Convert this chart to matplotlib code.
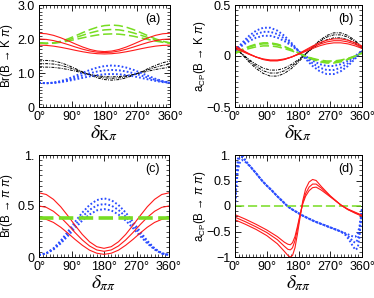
import matplotlib
matplotlib.use("Agg")
import matplotlib.pyplot as plt
from matplotlib.ticker import MultipleLocator, FixedLocator, FixedFormatter

plt.rcParams['font.family'] = ['Liberation Sans', 'DejaVu Sans']
plt.rcParams['mathtext.fontset'] = 'custom'
plt.rcParams['mathtext.rm'] = 'Liberation Sans'
plt.rcParams['mathtext.it'] = 'Liberation Sans:italic'

# ---------------- data ----------------
delta = [0, 20, 40, 60, 80, 100, 120, 140, 160, 180, 200, 220, 240, 260, 280, 300, 320, 340, 360]

# panel (a): Br(B -> K pi)
a_red = [
    [2.17, 2.154, 2.107, 2.035, 1.947, 1.853, 1.765, 1.693, 1.646, 1.63, 1.646, 1.693, 1.765, 1.853, 1.947, 2.035, 2.107, 2.154, 2.17],
    [2.0, 1.988, 1.953, 1.9, 1.835, 1.765, 1.7, 1.647, 1.612, 1.6, 1.612, 1.647, 1.7, 1.765, 1.835, 1.9, 1.953, 1.988, 2.0],
    [1.82, 1.812, 1.79, 1.755, 1.713, 1.667, 1.625, 1.59, 1.568, 1.56, 1.568, 1.59, 1.625, 1.667, 1.713, 1.755, 1.79, 1.812, 1.82],
]
a_green = [
    [1.886, 1.87, 1.886, 1.933, 2.005, 2.093, 2.187, 2.275, 2.347, 2.394, 2.41, 2.394, 2.347, 2.275, 2.187, 2.093, 2.005, 1.933, 1.886],
    [1.882, 1.87, 1.882, 1.918, 1.973, 2.039, 2.111, 2.178, 2.232, 2.268, 2.28, 2.268, 2.232, 2.178, 2.111, 2.039, 1.973, 1.918, 1.882],
    [1.878, 1.87, 1.878, 1.903, 1.94, 1.986, 2.034, 2.08, 2.117, 2.142, 2.15, 2.142, 2.117, 2.08, 2.034, 1.986, 1.94, 1.903, 1.878],
]
a_black = [
    [1.353, 1.37, 1.353, 1.302, 1.225, 1.13, 1.03, 0.935, 0.858, 0.807, 0.79, 0.807, 0.858, 0.935, 1.03, 1.13, 1.225, 1.302, 1.353],
    [1.263, 1.276, 1.263, 1.225, 1.168, 1.098, 1.022, 0.952, 0.895, 0.857, 0.844, 0.857, 0.895, 0.952, 1.022, 1.098, 1.168, 1.225, 1.263],
    [1.165, 1.174, 1.165, 1.14, 1.102, 1.055, 1.005, 0.958, 0.92, 0.895, 0.886, 0.895, 0.92, 0.958, 1.005, 1.055, 1.102, 1.14, 1.165],
]
a_blue = [
    [0.716, 0.70, 0.716, 0.761, 0.83, 0.915, 1.005, 1.09, 1.159, 1.204, 1.22, 1.204, 1.159, 1.09, 1.005, 0.915, 0.83, 0.761, 0.716],
    [0.712, 0.70, 0.712, 0.746, 0.798, 0.861, 0.929, 0.993, 1.044, 1.078, 1.09, 1.078, 1.044, 0.993, 0.929, 0.861, 0.798, 0.746, 0.712],
    [0.708, 0.70, 0.708, 0.732, 0.768, 0.812, 0.858, 0.903, 0.938, 0.962, 0.97, 0.962, 0.938, 0.903, 0.858, 0.812, 0.768, 0.732, 0.708],
]

# panel (b): a_CP(B -> K pi)
b_red = [
    [0.098, 0.06, 0.022, -0.011, -0.035, -0.048, -0.048, -0.035, -0.011, 0.022, 0.06, 0.098, 0.131, 0.155, 0.168, 0.168, 0.155, 0.131, 0.098],
    [0.087, 0.053, 0.019, -0.01, -0.032, -0.044, -0.044, -0.032, -0.01, 0.019, 0.053, 0.087, 0.116, 0.138, 0.15, 0.15, 0.138, 0.116, 0.087],
    [0.074, 0.045, 0.016, -0.01, -0.029, -0.039, -0.039, -0.029, -0.01, 0.016, 0.045, 0.074, 0.10, 0.119, 0.129, 0.129, 0.119, 0.10, 0.074],
]
b_green = [
    [0.03, 0.064, 0.094, 0.117, 0.129, 0.129, 0.117, 0.094, 0.064, 0.03, -0.004, -0.034, -0.057, -0.069, -0.069, -0.057, -0.034, -0.004, 0.03],
    [0.03, 0.061, 0.088, 0.108, 0.119, 0.119, 0.108, 0.088, 0.061, 0.03, -0.001, -0.028, -0.048, -0.059, -0.059, -0.048, -0.028, -0.001, 0.03],
    [0.025, 0.051, 0.073, 0.09, 0.099, 0.099, 0.09, 0.073, 0.051, 0.025, -0.001, -0.023, -0.04, -0.049, -0.049, -0.04, -0.023, -0.001, 0.025],
]
b_black = [
    [0.089, 0.015, -0.059, -0.123, -0.171, -0.197, -0.197, -0.171, -0.123, -0.059, 0.015, 0.089, 0.153, 0.201, 0.227, 0.227, 0.201, 0.153, 0.089],
    [0.085, 0.02, -0.045, -0.102, -0.145, -0.167, -0.167, -0.145, -0.102, -0.045, 0.02, 0.085, 0.142, 0.185, 0.207, 0.207, 0.185, 0.142, 0.085],
    [0.075, 0.02, -0.035, -0.083, -0.119, -0.138, -0.138, -0.119, -0.083, -0.035, 0.02, 0.075, 0.123, 0.159, 0.178, 0.178, 0.159, 0.123, 0.075],
]
b_blue = [
    [0.05, 0.129, 0.198, 0.249, 0.277, 0.277, 0.249, 0.198, 0.129, 0.05, -0.029, -0.098, -0.149, -0.177, -0.177, -0.149, -0.098, -0.029, 0.05],
    [0.05, 0.115, 0.172, 0.215, 0.237, 0.237, 0.215, 0.172, 0.115, 0.05, -0.015, -0.072, -0.115, -0.137, -0.137, -0.115, -0.072, -0.015, 0.05],
    [0.05, 0.101, 0.146, 0.18, 0.198, 0.198, 0.18, 0.146, 0.101, 0.05, -0.001, -0.046, -0.08, -0.098, -0.098, -0.08, -0.046, -0.001, 0.05],
]

# panel (c): Br(B -> pi pi)
c_red = [
    [0.629, 0.613, 0.565, 0.493, 0.404, 0.310, 0.221, 0.149, 0.101, 0.085, 0.101, 0.149, 0.221, 0.310, 0.404, 0.493, 0.565, 0.613, 0.629],
    [0.50, 0.487, 0.448, 0.389, 0.317, 0.239, 0.167, 0.108, 0.069, 0.056, 0.069, 0.108, 0.167, 0.239, 0.317, 0.389, 0.448, 0.487, 0.50],
    [0.38, 0.369, 0.339, 0.292, 0.234, 0.172, 0.115, 0.067, 0.037, 0.026, 0.037, 0.067, 0.115, 0.172, 0.234, 0.292, 0.339, 0.369, 0.38],
]
c_blue = [
    [0.02, 0.037, 0.085, 0.159, 0.249, 0.346, 0.436, 0.51, 0.558, 0.575, 0.558, 0.51, 0.436, 0.346, 0.249, 0.159, 0.085, 0.037, 0.02],
    [0.02, 0.035, 0.079, 0.145, 0.227, 0.314, 0.395, 0.462, 0.505, 0.52, 0.505, 0.462, 0.395, 0.314, 0.227, 0.145, 0.079, 0.035, 0.02],
    [0.02, 0.034, 0.073, 0.133, 0.206, 0.284, 0.358, 0.417, 0.457, 0.47, 0.457, 0.417, 0.358, 0.284, 0.206, 0.133, 0.073, 0.034, 0.02],
]
c_green = [0.383] * len(delta)

# panel (d): a_CP(B -> pi pi)
d_red_x = [0, 30, 60, 90, 120, 140, 150, 157, 163, 170, 177, 185, 192, 200, 210, 220, 230, 245, 270, 300, 320, 340, 360]
d_red = [
    [-0.27, -0.36, -0.46, -0.58, -0.74, -0.89, -0.97, -1.0, -0.97, -0.82, -0.55, -0.20, 0.10, 0.33, 0.47, 0.52, 0.50, 0.38, 0.20, 0.02, -0.07, -0.14, -0.20],
    [-0.22, -0.31, -0.41, -0.52, -0.66, -0.79, -0.85, -0.86, -0.82, -0.68, -0.45, -0.17, 0.06, 0.24, 0.37, 0.43, 0.43, 0.35, 0.19, 0.02, -0.07, -0.13, -0.19],
    [-0.17, -0.26, -0.36, -0.47, -0.60, -0.71, -0.75, -0.76, -0.72, -0.60, -0.40, -0.15, 0.04, 0.19, 0.30, 0.36, 0.37, 0.31, 0.18, 0.02, -0.06, -0.12, -0.18],
]
d_blue_x = [0, 4, 8, 12, 16, 20, 25, 30, 45, 60, 75, 90, 105, 120, 135, 150, 165, 180, 195, 210, 225, 240, 255, 270, 285, 300,
            315, 325, 335, 342, 348, 353, 357, 360]
d_blue = [
    [0.0, 0.6, 0.92, 1.04, 1.05, 1.0, 0.95, 0.89, 0.76, 0.64, 0.51, 0.40, 0.30, 0.19, 0.09, -0.01, -0.08, -0.14, -0.20, -0.25, -0.30, -0.34, -0.38, -0.42, -0.46, -0.50,
     -0.58, -0.68, -0.80, -0.86, -0.82, -0.60, -0.30, -0.05],
    [0.0, 0.5, 0.80, 0.93, 0.97, 0.96, 0.93, 0.88, 0.76, 0.64, 0.51, 0.40, 0.30, 0.19, 0.09, -0.01, -0.08, -0.14, -0.20, -0.25, -0.30, -0.34, -0.38, -0.42, -0.46, -0.50,
     -0.56, -0.62, -0.70, -0.72, -0.66, -0.48, -0.25, -0.05],
    [0.0, 0.4, 0.68, 0.82, 0.88, 0.90, 0.89, 0.86, 0.76, 0.64, 0.51, 0.40, 0.30, 0.19, 0.09, -0.01, -0.08, -0.14, -0.20, -0.25, -0.30, -0.34, -0.38, -0.42, -0.46, -0.50,
     -0.54, -0.57, -0.60, -0.60, -0.54, -0.40, -0.20, -0.05],
]
d_green = [0.0] * len(delta)

x_ticks = [0, 90, 180, 270, 360]
x_ticklabels = ['0°', '90°', '180°', '270°', '360°']

# ---------------- styles ----------------
RED = '#ff1a1a'
GREEN = '#77dd22'
BLUE = '#2a4cff'
red_kw = dict(color=RED, lw=0.8, ls='-')
green_kw = dict(color=GREEN, lw=1.1, ls=(0, (6, 2.5)))
blue_kw = dict(color=BLUE, lw=1.4, ls=(0, (0.9, 1.1)))
black_kw = dict(color='black', lw=0.7, ls=(0, (3, 1.2, 1, 1.2)))

fig = plt.figure(figsize=(3.74, 2.98), dpi=100)
ax_a = fig.add_axes([39/374, 1-107/298, 131/374, 102/298])
ax_b = fig.add_axes([235/374, 1-107/298, 127/374, 102/298])
ax_c = fig.add_axes([39/374, 1-257/298, 130/374, 102/298])
ax_d = fig.add_axes([235/374, 1-257/298, 127/374, 102/298])

for ys in a_black:
    ax_a.plot(delta, ys, **black_kw)
for ys in a_blue:
    ax_a.plot(delta, ys, **blue_kw)
for ys in a_green:
    ax_a.plot(delta, ys, **green_kw)
for ys in a_red:
    ax_a.plot(delta, ys, **red_kw)

for ys in b_black:
    ax_b.plot(delta, ys, **black_kw)
for ys in b_blue:
    ax_b.plot(delta, ys, **blue_kw)
for ys in b_green:
    ax_b.plot(delta, ys, **green_kw)
for ys in b_red:
    ax_b.plot(delta, ys, **red_kw)

for ys in c_blue:
    ax_c.plot(delta, ys, **blue_kw)
for ys in c_red:
    ax_c.plot(delta, ys, **red_kw)
ax_c.plot(delta, c_green, color=GREEN, lw=2.6, ls=(0, (4, 1.5)))

for ys in d_blue:
    ax_d.plot(d_blue_x, ys, **blue_kw)
ax_d.plot(delta, d_green, **green_kw)
for ys in d_red:
    ax_d.plot(d_red_x, ys, **red_kw)

def style(ax, ylim, yticks, ylabels, yminor, ylabel, xlabel, tag, ylab_x):
    ax.set_xlim(0, 360)
    ax.set_ylim(*ylim)
    ax.xaxis.set_major_locator(FixedLocator(x_ticks))
    ax.xaxis.set_major_formatter(FixedFormatter(x_ticklabels))
    ax.xaxis.set_minor_locator(MultipleLocator(10))
    ax.yaxis.set_major_locator(FixedLocator(yticks))
    ax.yaxis.set_major_formatter(FixedFormatter(ylabels))
    ax.yaxis.set_minor_locator(MultipleLocator(yminor))
    ax.tick_params(which='both', direction='in', top=True, right=True, labelsize=9, pad=3)
    ax.tick_params(which='major', length=4, width=0.6)
    ax.tick_params(which='minor', length=2, width=0.5)
    for s in ax.spines.values():
        s.set_linewidth(0.7)
    ax.set_ylabel(ylabel, fontsize=8.3)
    ax.yaxis.set_label_coords(ylab_x, 0.5)
    ax.set_xlabel(xlabel, fontsize=14, math_fontfamily='stix', labelpad=0)
    ax.text(0.87, 0.865, tag, transform=ax.transAxes, fontsize=9, ha='center', va='center')

style(ax_a, (0, 3), [0, 1, 2, 3], ['0', '1.0', '2.0', '3.0'], 0.1,
      r'Br(B → K $\pi$)', r'$\delta_{\mathrm{K}\pi}$', '(a)', (15 - 39) / 131)
style(ax_b, (-0.5, 0.5), [-0.5, 0, 0.5], ['\u22120.5', '0', '0.5'], 0.05,
      r'a$_{\mathrm{CP}}$(B → K $\pi$)', r'$\delta_{\mathrm{K}\pi}$', '(b)', (208 - 235) / 127)
style(ax_c, (0, 1), [0, 0.5, 1], ['0', '0.5', '1.'], 0.05,
      r'Br(B → $\pi$ $\pi$)', r'$\delta_{\pi\pi}$', '(c)', (15 - 39) / 130)
style(ax_d, (-1, 1), [-1, -0.5, 0, 0.5, 1], ['\u22121', '\u22120.5', '0', '0.5', '1.'], 0.1,
      r'a$_{\mathrm{CP}}$(B → $\pi$ $\pi$)', r'$\delta_{\pi\pi}$', '(d)', (208 - 235) / 127)

fig.savefig('out.png', dpi=100)
